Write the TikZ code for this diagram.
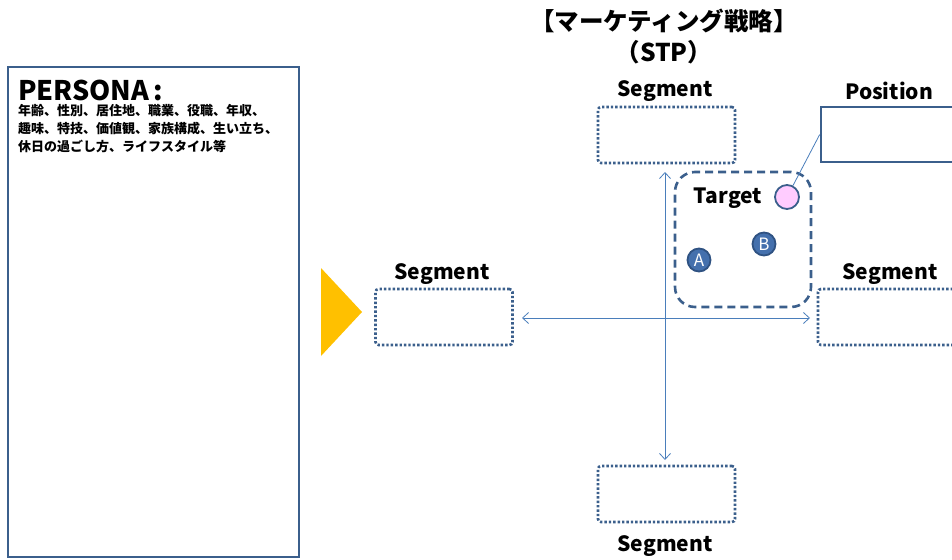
\documentclass[tikz,border=0pt]{standalone}
\usepackage{fontspec}
\setmainfont{Noto Sans CJK JP}
\usetikzlibrary{arrows.meta}
\definecolor{boxc}{HTML}{3B5F8C}
\definecolor{axisc}{HTML}{4A7EBB}
\definecolor{circf}{HTML}{4470AD}
\definecolor{circd}{HTML}{2F5282}
\definecolor{pinkf}{HTML}{FFCCFF}
\definecolor{orng}{HTML}{FFC000}
\tikzset{
  segbox/.style={draw=boxc, line width=2.6pt, dash pattern=on 2.4pt off 2pt, rounded corners=3pt, minimum width=137pt, minimum height=56pt, inner sep=0pt},
  seglabel/.style={font=\fontsize{21}{22}\selectfont\bfseries, inner sep=0pt},
  axis/.style={draw=axisc, line width=0.8pt, {Straight Barb[length=6pt,width=11pt]}-{Straight Barb[length=6pt,width=11pt]}},
  letter/.style={circle, draw=circd, line width=1.8pt, fill=circf, text=white, minimum size=23pt, inner sep=0pt, font=\fontsize{17}{17}\selectfont},
}
\begin{document}
\begin{tikzpicture}[x=1pt,y=-1pt]
\useasboundingbox (0,0) rectangle (952,559);
\clip (0,0) rectangle (952,559);
% persona
\node[draw=boxc, line width=2.5pt, minimum width=291pt, minimum height=490pt, inner sep=0pt] (persona) at (153.5,312) {};
\node[anchor=base west, inner sep=0pt, font=\fontsize{27}{27}\selectfont\bfseries] (ptitle) at (18,101) {PERSONA\,:};
\node[anchor=north west, inner sep=0pt, align=left, font=\fontsize{13}{18}\selectfont\bfseries] (ptext) at (18,104) {年齢、性別、居住地、職業、役職、年収、\\趣味、特技、価値観、家族構成、生い立ち、\\休日の過ごし方、ライフスタイル等};
% triangle
\fill[orng] (321,268) -- (362,312) -- (321,356) -- cycle;
% title
\node[align=center, inner sep=0pt, font=\fontsize{24.5}{31}\selectfont\bfseries] (title) at (664,37) {【マーケティング戦略】\\（STP）};
% segments
\node[segbox] (lseg) at (444,317) {};
\node[segbox] (tseg) at (666.5,135) {};
\node[segbox, minimum width=182pt] (rseg) at (909,317) {};
\node[segbox] (bseg) at (666.5,494) {};
\node[seglabel] (llab) at (442,274) {Segment};
\node[seglabel] (tlab) at (665,91) {Segment};
\node[seglabel] (rlab) at (890,274) {Segment};
\node[seglabel] (blab) at (665,546) {Segment};
% position
\node[draw=boxc, line width=2.6pt, minimum width=179pt, minimum height=55pt, inner sep=0pt] (pos) at (910.5,134.5) {};
\node[seglabel] (poslab) at (889,91) {Position};
% axes
\coordinate (vtop) at (665,172);
\coordinate (vbot) at (665,460);
\coordinate (hl) at (522,318);
\coordinate (hr) at (810,318);
\draw[axis] (vtop) -- (vbot);
\draw[axis] (hl) -- (hr);
% target
\node[draw=boxc, line width=2.6pt, dash pattern=on 8pt off 5pt, rounded corners=20pt, minimum width=136pt, minimum height=135pt, inner sep=0pt] (target) at (743,239.5) {};
\node[seglabel] (tgtlab) at (728,198) {Target};
\node[circle, draw=boxc, line width=1.8pt, fill=pinkf, minimum size=24pt, inner sep=0pt] (pink) at (787,197) {};
\draw[axisc, line width=0.8pt] (pink) -- (pos.west);
\node[letter] (a) at (699,260) {A};
\node[letter] (b) at (764,244) {B};
\end{tikzpicture}
\end{document}
